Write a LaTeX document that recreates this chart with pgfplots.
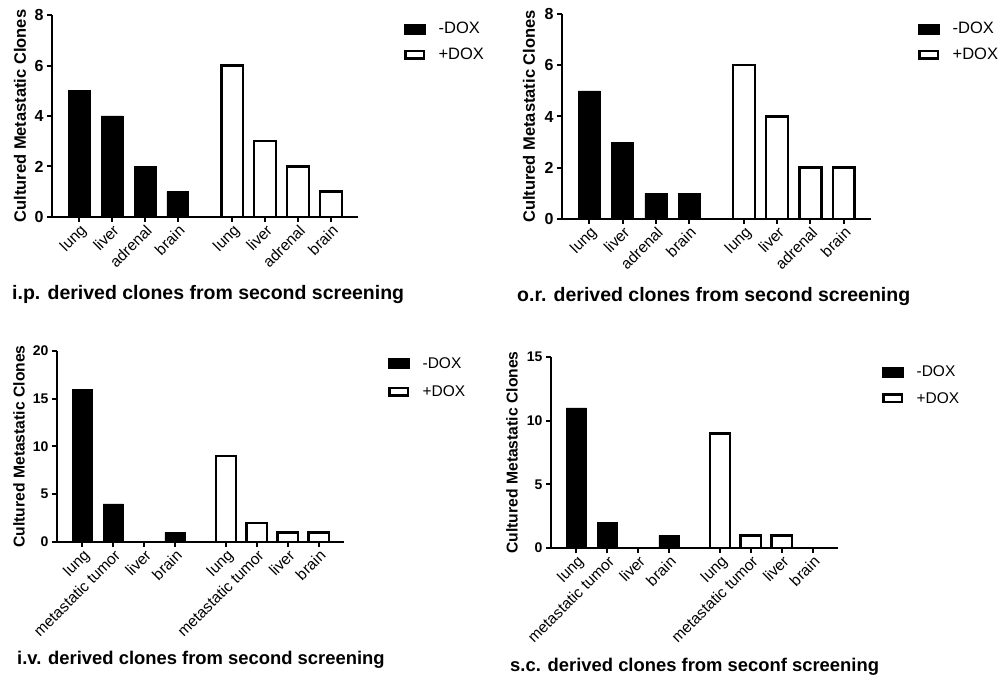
\documentclass[border=0pt]{standalone}
\usepackage{fontspec}
\setmainfont{Liberation Sans}
\usepackage{pgfplots}
\pgfplotsset{compat=1.18}

\pgfplotsset{
  panel/.style={
    scale only axis,
    axis x line=bottom, axis y line=left,
    axis line style={line width=2pt, -},
    xmin=-0.82, xmax=8.47,
    ymin=0,
    ybar, bar width=0.66,
    xtick={0,1,2,3,4.65,5.65,6.65,7.65},
    tick align=outside,
    major tick length=5pt,
    tick style={line width=2pt, black},
    x tick label style={rotate=45, anchor=north east, font=\fontsize{15.5}{15.5}\selectfont, inner sep=1pt},
    y tick label style={font=\fontsize{16}{16}\selectfont\bfseries},
    /pgf/number format/assume math mode=true,
    ylabel style={font=\fontsize{16.5}{16.5}\selectfont\bfseries, anchor=center},
    legend style={draw=none, fill=none, font=\fontsize{16.5}{16.5}\selectfont, anchor=north west, row sep=9pt, inner sep=0pt, cells={anchor=west}},
    clip=false,
  },
  minusdox/.style={bar shift=0pt, fill=black, draw=black, line width=0.5pt,
    legend image code/.code={\draw[fill=black,draw=black] (0pt,-5pt) rectangle (21pt,5pt); \path (31pt,0pt);}},
  plusdox/.style={bar shift=0pt, fill=white, draw=black, line width=2.5pt,
    legend image code/.code={\draw[fill=white,draw=black,line width=2.5pt] (1.25pt,-3.75pt) rectangle (19.75pt,3.75pt); \path (31pt,0pt);}},
}

\begin{document}
\begin{tikzpicture}
\path[use as bounding box] (0pt,0pt) rectangle (1005pt,680pt);

% Panel 1: i.p.
\begin{axis}[panel, at={(52pt,463pt)}, anchor=south west, width=306pt, height=202pt,
  ymax=8, ytick={0,2,4,6,8},
  xticklabels={lung,liver,adrenal,brain,lung,liver,adrenal,brain},
  ylabel={Cultured Metastatic Clones},
  ylabel style={at={(axis description cs:-0.105,0.5)}},
  legend style={at={(rel axis cs:1.15,0.975)}}]
\addplot[minusdox] coordinates {(0,5) (1,4) (2,2) (3,1)};
\addplot[plusdox] coordinates {(4.65,6) (5.65,3) (6.65,2) (7.65,1)};
\legend{-DOX,+DOX}
\end{axis}

% Panel 2: o.r.
\begin{axis}[panel, at={(562pt,461pt)}, anchor=south west, width=309pt, height=205pt,
  ymax=8, ytick={0,2,4,6,8},
  xticklabels={lung,liver,adrenal,brain,lung,liver,adrenal,brain},
  ylabel={Cultured Metastatic Clones},
  ylabel style={at={(axis description cs:-0.107,0.5)}},
  legend style={at={(rel axis cs:1.152,0.97)}}]
\addplot[minusdox] coordinates {(0,5) (1,3) (2,1) (3,1)};
\addplot[plusdox] coordinates {(4.65,6) (5.65,4) (6.65,2) (7.65,2)};
\legend{-DOX,+DOX}
\end{axis}

% Panel 3: i.v.
\begin{axis}[panel, at={(57pt,138pt)}, anchor=south west, width=287pt, height=191pt,
  ymax=20, ytick={0,5,10,15,20},
  y tick label style={font=\fontsize{14}{14}\selectfont\bfseries},
  xticklabels={lung,metastatic tumor,liver,brain,lung,metastatic tumor,liver,brain},
  ylabel={Cultured Metastatic Clones},
  ylabel style={font=\fontsize{15.7}{15.7}\selectfont\bfseries, at={(axis description cs:-0.132,0.5)}},
  legend style={font=\fontsize{15.5}{15.5}\selectfont, row sep=12pt, at={(rel axis cs:1.153,0.978)}}]
\addplot[minusdox] coordinates {(0,16) (1,4) (2,0) (3,1)};
\addplot[plusdox] coordinates {(4.65,9) (5.65,2) (6.65,1) (7.65,1)};
\legend{-DOX,+DOX}
\end{axis}

% Panel 4: s.c.
\begin{axis}[panel, at={(551pt,132pt)}, anchor=south west, width=287pt, height=191pt,
  ymax=15, ytick={0,5,10,15},
  y tick label style={font=\fontsize{14}{14}\selectfont\bfseries},
  xticklabels={lung,metastatic tumor,liver,brain,lung,metastatic tumor,liver,brain},
  ylabel={Cultured Metastatic Clones},
  ylabel style={font=\fontsize{15.7}{15.7}\selectfont\bfseries, at={(axis description cs:-0.136,0.5)}},
  legend style={font=\fontsize{15.5}{15.5}\selectfont, row sep=10pt, at={(rel axis cs:1.153,0.965)}}]
\addplot[minusdox] coordinates {(0,11) (1,2) (2,0) (3,1)};
\addplot[plusdox] coordinates {(4.65,9) (5.65,1) (6.65,1) (7.65,0)};
\legend{-DOX,+DOX}
\end{axis}

\node[anchor=base west, inner sep=0pt, font=\fontsize{19.5}{19.5}\selectfont\bfseries] at (12pt,380pt) {i.p. derived clones from second screening};
\node[anchor=base west, inner sep=0pt, font=\fontsize{19.5}{19.5}\selectfont\bfseries] at (517pt,378pt) {o.r. derived clones from second screening};
\node[anchor=base west, inner sep=0pt, font=\fontsize{18.4}{18.4}\selectfont\bfseries] at (17pt,15pt) {i.v. derived clones from second screening};
\node[anchor=base west, inner sep=0pt, font=\fontsize{18.4}{18.4}\selectfont\bfseries] at (510pt,8pt) {s.c. derived clones from seconf screening};
\end{tikzpicture}
\end{document}
